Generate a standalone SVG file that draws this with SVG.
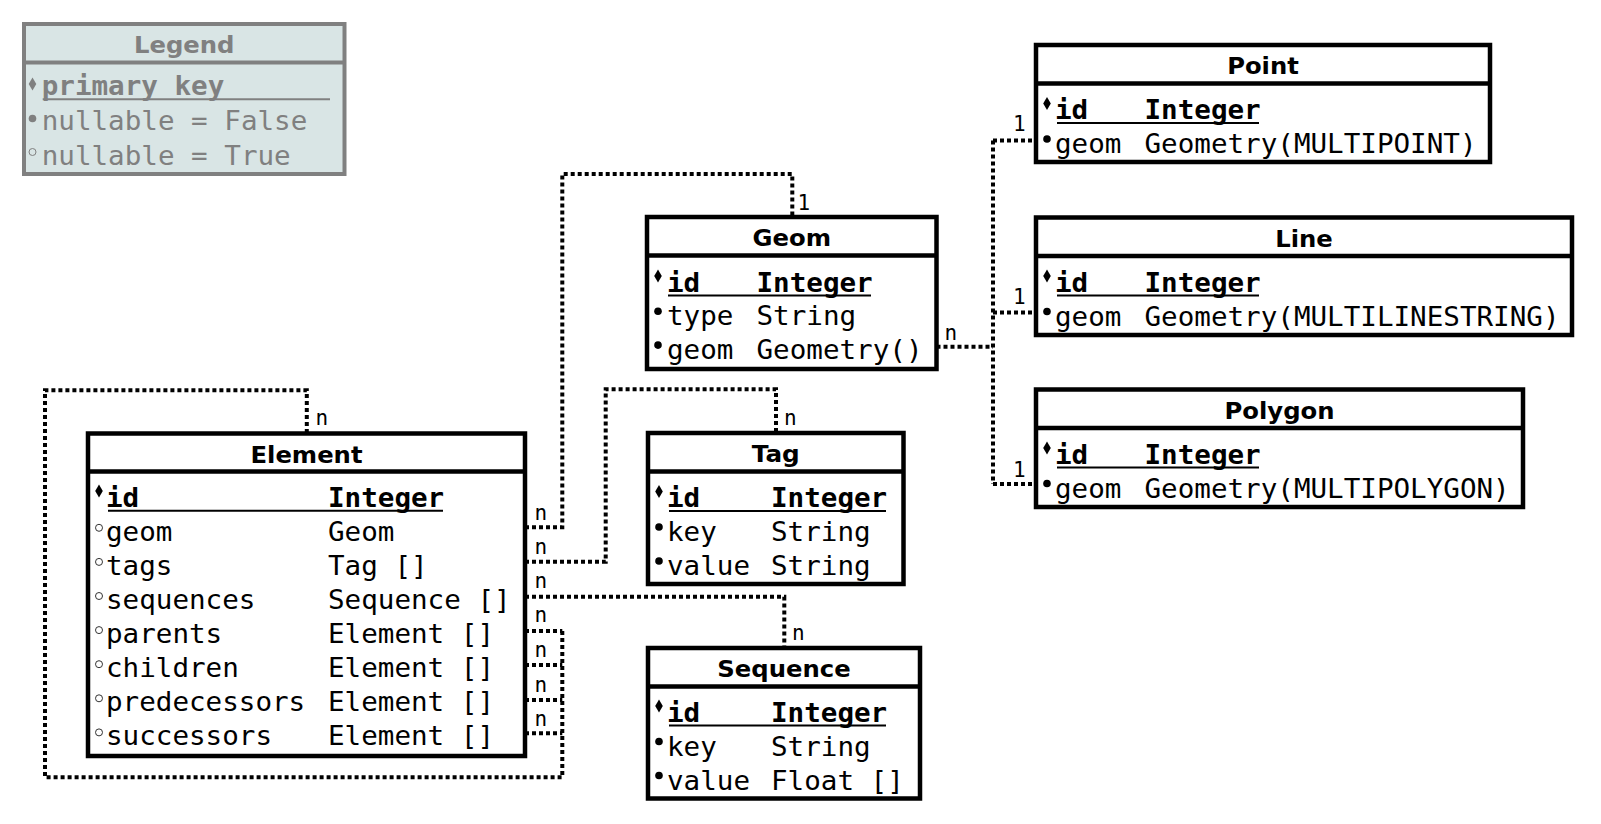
<svg xmlns="http://www.w3.org/2000/svg" xmlns:xlink="http://www.w3.org/1999/xlink" width="1601" height="824" viewBox="0 0 1601 824">
<style>
.bg{fill:#fff}
.box{fill:#fff;stroke:#000;stroke-width:4.5}
.div{stroke:#000;stroke-width:4.5}
.title{font-family:"DejaVu Sans",sans-serif;font-weight:bold;font-size:23px;text-anchor:middle;fill:#000}
.row{font-family:"DejaVu Sans Mono",monospace;font-size:27px;fill:#000}
.pk{font-weight:bold}
.ul{stroke:#000;stroke-width:2}
.edge{fill:none;stroke:#000;stroke-width:4;stroke-dasharray:4 3}
.lbl{font-family:"DejaVu Sans Mono",monospace;font-size:21px;fill:#000}
.mk{fill:#000}
.mko{fill:none;stroke:#333;stroke-width:1}
.lbox{fill:#d9e5e5;stroke:#808080;stroke-width:4}
.ldiv{stroke:#808080;stroke-width:4}
.ltitle{font-family:"DejaVu Sans",sans-serif;font-weight:bold;font-size:23px;text-anchor:middle;fill:#808080}
.lrow{font-family:"DejaVu Sans Mono",monospace;font-size:26px;fill:#808080}
.lul{stroke:#808080;stroke-width:2}
.lmk{fill:#808080}
.lmko{fill:none;stroke:#808080;stroke-width:1}
</style>
<defs>
<path id="dia" d="M0,-6.5 L3.8,0 L0,6.5 L-3.8,0Z"/>
<circle id="dot" r="3.8"/>
<circle id="ring" r="3.5"/>
</defs>
<rect class="bg" x="0" y="0" width="1601" height="824"/>

<g id="connectors">
<path class="edge" d="M525,527.3 H562.3 V174 H792.3 V217"/>
<path class="edge" d="M525,561.7 H605.7 V389.3 H776 V433"/>
<path class="edge" d="M525,596.7 H784.3 V648"/>
<path class="edge" d="M525,631 H562.3"/>
<path class="edge" d="M525,665 H562.3"/>
<path class="edge" d="M525,700 H562.3"/>
<path class="edge" d="M525,733.3 H562.3"/>
<path class="edge" d="M562.3,631 V777.3 H45 V390.3 H306.8 V433.5"/>
<path class="edge" d="M936.5,346.7 H993"/>
<path class="edge" d="M993,140.5 V484"/>
<path class="edge" d="M993,140.5 H1036"/>
<path class="edge" d="M993,312.5 H1036"/>
<path class="edge" d="M993,484 H1036"/>
<g id="edge-labels">
<text class="lbl" x="534.5" y="520">n</text>
<text class="lbl" x="797.5" y="210">1</text>
<text class="lbl" x="534.5" y="554.3">n</text>
<text class="lbl" x="784" y="425">n</text>
<text class="lbl" x="534.5" y="588.3">n</text>
<text class="lbl" x="792" y="640">n</text>
<text class="lbl" x="534.5" y="622.3">n</text>
<text class="lbl" x="534.5" y="657.3">n</text>
<text class="lbl" x="534.5" y="691.7">n</text>
<text class="lbl" x="534.5" y="726">n</text>
<text class="lbl" x="315.5" y="425">n</text>
<text class="lbl" x="944.5" y="340">n</text>
<text class="lbl" x="1013" y="131">1</text>
<text class="lbl" x="1013" y="304">1</text>
<text class="lbl" x="1013" y="476.5">1</text>
</g>
</g>

<g id="legend">
<rect class="lbox" x="24" y="24" width="320.5" height="150"/>
<line class="ldiv" x1="24" y1="62.5" x2="344.5" y2="62.5"/>
<text class="ltitle" x="184.25" y="53" textLength="100.5" lengthAdjust="spacingAndGlyphs">Legend</text>
<use href="#dia" class="lmk" x="32.5" y="84"/>
<text class="lrow pk" x="41.7" y="95" textLength="182.6" lengthAdjust="spacingAndGlyphs">primary key</text>
<line class="lul" x1="42.7" y1="99.3" x2="330" y2="99.3"/>
<use href="#dot" class="lmk" x="32.5" y="118.5"/>
<text class="lrow" x="41.7" y="130" textLength="265.6" lengthAdjust="spacingAndGlyphs">nullable = False</text>
<use href="#ring" class="lmko" x="32.5" y="152"/>
<text class="lrow" x="41.7" y="165" textLength="249" lengthAdjust="spacingAndGlyphs">nullable = True</text>
</g>

<g id="node-geom">
<rect class="box" x="647" y="217" width="289.5" height="152"/>
<line class="div" x1="647" y1="255.5" x2="936.5" y2="255.5"/>
<text class="title" x="791.75" y="246" textLength="78.5" lengthAdjust="spacingAndGlyphs">Geom</text>
<use href="#dia" class="mk" x="658" y="276"/>
<text class="row pk" x="667" y="291.5" textLength="33.2" lengthAdjust="spacingAndGlyphs">id</text>
<text class="row pk" x="756.5" y="291.5" textLength="116.2" lengthAdjust="spacingAndGlyphs">Integer</text>
<line class="ul" x1="668" y1="295.5" x2="871" y2="295.5"/>
<use href="#dot" class="mk" x="658" y="311.3"/>
<text class="row" x="667" y="325.3" textLength="66.4" lengthAdjust="spacingAndGlyphs">type</text>
<text class="row" x="756.5" y="325.3" textLength="99.6" lengthAdjust="spacingAndGlyphs">String</text>
<use href="#dot" class="mk" x="658" y="345.1"/>
<text class="row" x="667" y="359.1" textLength="66.4" lengthAdjust="spacingAndGlyphs">geom</text>
<text class="row" x="756.5" y="359.1" textLength="166" lengthAdjust="spacingAndGlyphs">Geometry()</text>
</g>

<g id="node-point">
<rect class="box" x="1036" y="45" width="454" height="117"/>
<line class="div" x1="1036" y1="83.5" x2="1490" y2="83.5"/>
<text class="title" x="1263" y="74" textLength="71.7" lengthAdjust="spacingAndGlyphs">Point</text>
<use href="#dia" class="mk" x="1047" y="103.5"/>
<text class="row pk" x="1055" y="119" textLength="33.2" lengthAdjust="spacingAndGlyphs">id</text>
<text class="row pk" x="1144.5" y="119" textLength="116.2" lengthAdjust="spacingAndGlyphs">Integer</text>
<line class="ul" x1="1057" y1="123" x2="1259" y2="123"/>
<use href="#dot" class="mk" x="1047" y="139"/>
<text class="row" x="1055" y="153" textLength="66.4" lengthAdjust="spacingAndGlyphs">geom</text>
<text class="row" x="1144.5" y="153" textLength="332" lengthAdjust="spacingAndGlyphs">Geometry(MULTIPOINT)</text>
</g>

<g id="node-line">
<rect class="box" x="1036" y="217.5" width="536" height="117.5"/>
<line class="div" x1="1036" y1="256" x2="1572" y2="256"/>
<text class="title" x="1304" y="246.5" textLength="57.6" lengthAdjust="spacingAndGlyphs">Line</text>
<use href="#dia" class="mk" x="1047" y="276"/>
<text class="row pk" x="1055" y="291.5" textLength="33.2" lengthAdjust="spacingAndGlyphs">id</text>
<text class="row pk" x="1144.5" y="291.5" textLength="116.2" lengthAdjust="spacingAndGlyphs">Integer</text>
<line class="ul" x1="1057" y1="295.5" x2="1259" y2="295.5"/>
<use href="#dot" class="mk" x="1047" y="311.5"/>
<text class="row" x="1055" y="325.5" textLength="66.4" lengthAdjust="spacingAndGlyphs">geom</text>
<text class="row" x="1144.5" y="325.5" textLength="415" lengthAdjust="spacingAndGlyphs">Geometry(MULTILINESTRING)</text>
</g>

<g id="node-polygon">
<rect class="box" x="1036" y="389.5" width="487" height="117.5"/>
<line class="div" x1="1036" y1="428" x2="1523" y2="428"/>
<text class="title" x="1279.5" y="418.5" textLength="110" lengthAdjust="spacingAndGlyphs">Polygon</text>
<use href="#dia" class="mk" x="1047" y="448"/>
<text class="row pk" x="1055" y="463.5" textLength="33.2" lengthAdjust="spacingAndGlyphs">id</text>
<text class="row pk" x="1144.5" y="463.5" textLength="116.2" lengthAdjust="spacingAndGlyphs">Integer</text>
<line class="ul" x1="1057" y1="467.5" x2="1259" y2="467.5"/>
<use href="#dot" class="mk" x="1047" y="483.5"/>
<text class="row" x="1055" y="497.5" textLength="66.4" lengthAdjust="spacingAndGlyphs">geom</text>
<text class="row" x="1144.5" y="497.5" textLength="365.2" lengthAdjust="spacingAndGlyphs">Geometry(MULTIPOLYGON)</text>
</g>

<g id="node-tag">
<rect class="box" x="648" y="433" width="255.5" height="151"/>
<line class="div" x1="648" y1="471.5" x2="903.5" y2="471.5"/>
<text class="title" x="775.75" y="462" textLength="48" lengthAdjust="spacingAndGlyphs">Tag</text>
<use href="#dia" class="mk" x="659" y="491.5"/>
<text class="row pk" x="667" y="507" textLength="33.2" lengthAdjust="spacingAndGlyphs">id</text>
<text class="row pk" x="771" y="507" textLength="116.2" lengthAdjust="spacingAndGlyphs">Integer</text>
<line class="ul" x1="669" y1="511" x2="886" y2="511"/>
<use href="#dot" class="mk" x="659" y="527"/>
<text class="row" x="667" y="541" textLength="49.8" lengthAdjust="spacingAndGlyphs">key</text>
<text class="row" x="771" y="541" textLength="99.6" lengthAdjust="spacingAndGlyphs">String</text>
<use href="#dot" class="mk" x="659" y="561"/>
<text class="row" x="667" y="575" textLength="83" lengthAdjust="spacingAndGlyphs">value</text>
<text class="row" x="771" y="575" textLength="99.6" lengthAdjust="spacingAndGlyphs">String</text>
</g>

<g id="node-sequence">
<rect class="box" x="648" y="648" width="272" height="150.5"/>
<line class="div" x1="648" y1="686.5" x2="920" y2="686.5"/>
<text class="title" x="784" y="677" textLength="133.4" lengthAdjust="spacingAndGlyphs">Sequence</text>
<use href="#dia" class="mk" x="659" y="706"/>
<text class="row pk" x="667" y="721.5" textLength="33.2" lengthAdjust="spacingAndGlyphs">id</text>
<text class="row pk" x="771" y="721.5" textLength="116.2" lengthAdjust="spacingAndGlyphs">Integer</text>
<line class="ul" x1="669" y1="725.5" x2="886" y2="725.5"/>
<use href="#dot" class="mk" x="659" y="741.5"/>
<text class="row" x="667" y="755.5" textLength="49.8" lengthAdjust="spacingAndGlyphs">key</text>
<text class="row" x="771" y="755.5" textLength="99.6" lengthAdjust="spacingAndGlyphs">String</text>
<use href="#dot" class="mk" x="659" y="775.5"/>
<text class="row" x="667" y="789.5" textLength="83" lengthAdjust="spacingAndGlyphs">value</text>
<text class="row" x="771" y="789.5" textLength="132.8" lengthAdjust="spacingAndGlyphs">Float []</text>
</g>

<g id="node-element">
<rect class="box" x="88" y="433.5" width="437" height="322.5"/>
<line class="div" x1="88" y1="471.5" x2="525" y2="471.5"/>
<text class="title" x="306.5" y="462.5" textLength="112" lengthAdjust="spacingAndGlyphs">Element</text>
<use href="#dia" class="mk" x="99" y="491"/>
<text class="row pk" x="106" y="506.7" textLength="33.2" lengthAdjust="spacingAndGlyphs">id</text>
<text class="row pk" x="328" y="506.7" textLength="116.2" lengthAdjust="spacingAndGlyphs">Integer</text>
<line class="ul" x1="108" y1="510.7" x2="443" y2="510.7"/>
<use href="#ring" class="mko" x="99" y="527.8"/>
<text class="row" x="106" y="540.8" textLength="66.4" lengthAdjust="spacingAndGlyphs">geom</text>
<text class="row" x="328" y="540.8" textLength="66.4" lengthAdjust="spacingAndGlyphs">Geom</text>
<use href="#ring" class="mko" x="99" y="561.9"/>
<text class="row" x="106" y="574.9" textLength="66.4" lengthAdjust="spacingAndGlyphs">tags</text>
<text class="row" x="328" y="574.9" textLength="99.6" lengthAdjust="spacingAndGlyphs">Tag []</text>
<use href="#ring" class="mko" x="99" y="596"/>
<text class="row" x="106" y="609" textLength="149.4" lengthAdjust="spacingAndGlyphs">sequences</text>
<text class="row" x="328" y="609" textLength="182.6" lengthAdjust="spacingAndGlyphs">Sequence []</text>
<use href="#ring" class="mko" x="99" y="630.1"/>
<text class="row" x="106" y="643.1" textLength="116.2" lengthAdjust="spacingAndGlyphs">parents</text>
<text class="row" x="328" y="643.1" textLength="166" lengthAdjust="spacingAndGlyphs">Element []</text>
<use href="#ring" class="mko" x="99" y="664.2"/>
<text class="row" x="106" y="677.2" textLength="132.8" lengthAdjust="spacingAndGlyphs">children</text>
<text class="row" x="328" y="677.2" textLength="166" lengthAdjust="spacingAndGlyphs">Element []</text>
<use href="#ring" class="mko" x="99" y="698.3"/>
<text class="row" x="106" y="711.3" textLength="199.2" lengthAdjust="spacingAndGlyphs">predecessors</text>
<text class="row" x="328" y="711.3" textLength="166" lengthAdjust="spacingAndGlyphs">Element []</text>
<use href="#ring" class="mko" x="99" y="732.4"/>
<text class="row" x="106" y="745.4" textLength="166" lengthAdjust="spacingAndGlyphs">successors</text>
<text class="row" x="328" y="745.4" textLength="166" lengthAdjust="spacingAndGlyphs">Element []</text>
</g>
</svg>
